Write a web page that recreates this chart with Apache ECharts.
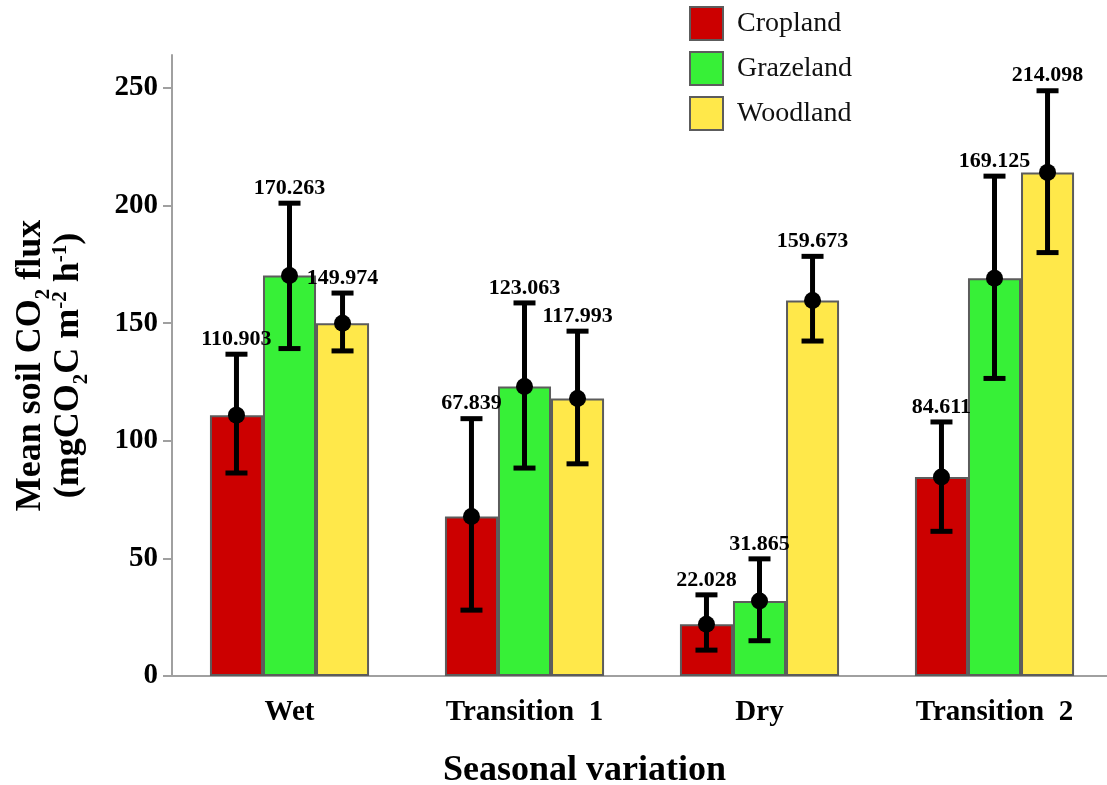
<!DOCTYPE html>
<html>
<head>
<meta charset="utf-8">
<script src="https://cdn.jsdelivr.net/npm/echarts@6/dist/echarts.min.js"></script>
<style>
  html, body { margin: 0; padding: 0; background: #fff; }
  #chart { width: 1107px; height: 785px; }
</style>
</head>
<body>
<div id="chart"></div>
<script>
// Seasons on the category axis
const seasons = ['Wet', 'Transition  1', 'Dry', 'Transition  2'];
const landUses = ['Cropland', 'Grazeland', 'Woodland'];

// Mean soil CO2 flux per land use
const cropland  = [110.903, 67.839, 22.028, 84.611];
const grazeland = [170.263, 123.063, 31.865, 169.125];
const woodland  = [149.974, 117.993, 159.673, 214.098];

// Error bar ends (lower / upper)
const croplandLow   = [86.3, 28.0, 11.0, 61.5];
const croplandHigh  = [136.8, 109.4, 34.5, 108.0];
const grazelandLow  = [139.2, 88.4, 15.0, 126.5];
const grazelandHigh = [201.0, 158.6, 49.8, 212.5];
const woodlandLow   = [138.2, 90.2, 142.4, 180.0];
const woodlandHigh  = [162.8, 146.6, 178.4, 248.8];

// Y axis ticks
const yTicks = [0, 50, 100, 150, 200, 250];

const colors = ['#CC0000', '#37F037', '#FFE84A'];
const means = [cropland, grazeland, woodland];
const lows = [croplandLow, grazelandLow, woodlandLow];
const highs = [croplandHigh, grazelandHigh, woodlandHigh];

const SERIF = '"Liberation Serif", "Times New Roman", serif';
const CAT_GAP = 0.323;

const chart = echarts.init(document.getElementById('chart'));

const barSeries = landUses.map((name, i) => ({
  name: name,
  type: 'bar',
  data: means[i],
  barGap: '0%',
  barCategoryGap: (CAT_GAP * 100) + '%',
  itemStyle: { color: colors[i], borderColor: '#5c5c5c', borderWidth: 2 },
  z: 2
}));

function errorSeries(si) {
  const data = seasons.map((s, k) => [k, means[si][k], lows[si][k], highs[si][k]]);
  return {
    type: 'custom',
    name: landUses[si] + ' error',
    data: data,
    z: 5,
    silent: true,
    encode: { x: 0, y: [1, 2, 3] },
    renderItem: function (params, api) {
      const k = api.value(0);
      const band = api.size([1, 0])[0];
      const bw = band * (1 - CAT_GAP) / 3;
      const cx = api.coord([k, 0])[0] + (si - 1) * bw;
      const yMean = api.coord([k, api.value(1)])[1];
      const yLo = api.coord([k, api.value(2)])[1];
      const yHi = api.coord([k, api.value(3)])[1];
      const cap = 11;
      const st = { stroke: '#000', lineWidth: 5 };
      return {
        type: 'group',
        children: [
          { type: 'line', shape: { x1: cx, y1: yLo, x2: cx, y2: yHi }, style: st },
          { type: 'line', shape: { x1: cx - cap, y1: yLo, x2: cx + cap, y2: yLo }, style: st },
          { type: 'line', shape: { x1: cx - cap, y1: yHi, x2: cx + cap, y2: yHi }, style: st },
          { type: 'circle', shape: { cx: cx, cy: yMean, r: 8.5 }, style: { fill: '#000' } },
          {
            type: 'text',
            x: cx, y: yHi - 15,
            style: {
              text: api.value(1).toFixed(3),
              align: 'center', verticalAlign: 'middle',
              font: 'bold 22px ' + SERIF, fill: '#000'
            }
          }
        ]
      };
    }
  };
}

const option = {
  animation: false,
  backgroundColor: '#fff',
  color: colors,
  legend: {
    data: landUses,
    orient: 'vertical',
    left: 684, top: 1,
    itemWidth: 33, itemHeight: 33, itemGap: 10,
    icon: 'rect',
    textStyle: { fontFamily: SERIF, fontSize: 28, color: '#111', padding: [0, 0, 0, 9] }
  },
  grid: { left: 172, top: 55, width: 940, height: 621, outerBoundsMode: 'none', containLabel: false },
  xAxis: {
    type: 'category',
    data: seasons,
    axisLine: { lineStyle: { color: '#a0a0a0', width: 2 } },
    axisTick: { alignWithLabel: true, length: 10, lineStyle: { color: '#a0a0a0', width: 2 } },
    axisLabel: { margin: 22, fontFamily: SERIF, fontWeight: 'bold', fontSize: 29, color: '#000' }
  },
  yAxis: {
    type: 'value',
    min: 0, max: 264, interval: 50,
    splitLine: { show: false },
    axisLine: { show: true, lineStyle: { color: '#a0a0a0', width: 2 } },
    axisTick: { show: true, length: 9, customValues: yTicks, lineStyle: { color: '#a0a0a0', width: 2 } },
    axisLabel: { customValues: yTicks, margin: 14, fontFamily: SERIF, fontWeight: 'bold', fontSize: 29, color: '#000' },
    name: '{m|Mean soil CO}{s|2}{m| flux}\n{m|(mgCO}{s|2}{m|C m}{p|-2}{m| h}{p|-1}{m|)}',
    nameLocation: 'middle',
    nameGap: 84,
    nameRotate: 90,
    nameTextStyle: {
      fontFamily: SERIF, fontWeight: 'bold', color: '#000', fontSize: 36, lineHeight: 38,
      rich: {
        m: { fontFamily: SERIF, fontWeight: 'bold', fontSize: 36, lineHeight: 38, color: '#000' },
        s: { fontFamily: SERIF, fontWeight: 'bold', fontSize: 21, lineHeight: 38, verticalAlign: 'bottom', color: '#000', padding: [0, 0, -4, 0] },
        p: { fontFamily: SERIF, fontWeight: 'bold', fontSize: 21, lineHeight: 38, verticalAlign: 'top', color: '#000' }
      }
    }
  },
  graphic: [{
    type: 'text',
    left: 443, top: 753,
    style: { text: 'Seasonal variation', font: 'bold 36px ' + SERIF, fill: '#000' }
  }],
  series: barSeries.concat([errorSeries(0), errorSeries(1), errorSeries(2)])
};

chart.setOption(option);
</script>
</body>
</html>
